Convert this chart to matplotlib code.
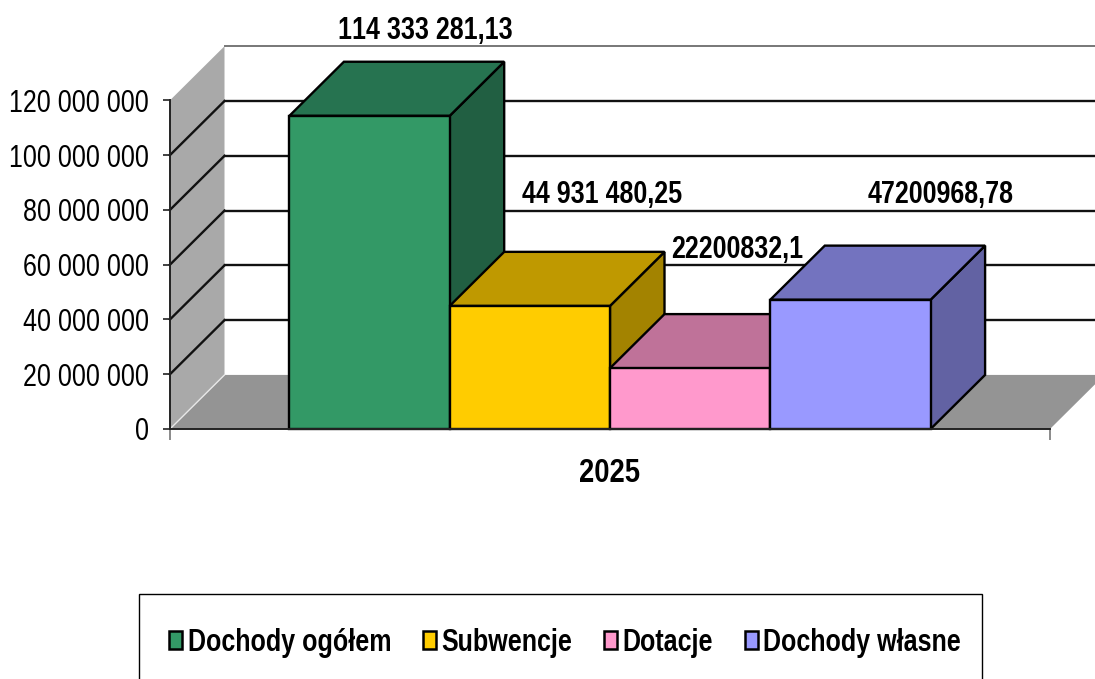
import os
import tempfile

import matplotlib
matplotlib.use("Agg")
import matplotlib.pyplot as plt
import matplotlib.patches as mpatches
from matplotlib import font_manager
from matplotlib.font_manager import FontProperties
from fontTools.ttLib import TTFont

# ── data ─────────────────────────────────────────────────────────────────────

categories = ["Dochody ogółem", "Subwencje", "Dotacje", "Dochody własne"]
values = [114333281.13, 44931480.25, 22200832.1, 47200968.78]
value_labels = ["114 333 281,13", "44 931 480,25", "22200832,1", "47200968,78"]
year_label = "2025"
y_ticks = [0, 20000000, 40000000, 60000000, 80000000, 100000000, 120000000]
y_tick_labels = ["0", "20 000 000", "40 000 000", "60 000 000",
                 "80 000 000", "100 000 000", "120 000 000"]

# ── visual constants ─────────────────────────────────────────────────────────

FRONT = ["#339966", "#FFCC00", "#FF99CC", "#9999FF"]
TOP = ["#267350", "#BF9900", "#BF7299", "#7373BF"]
SIDE = ["#215F42", "#A38300", "#A36282", "#6262A3"]

W, H = 1095, 679
BAR_W = 160.3 / 880
DEPTH_X = 54.5 / 880
DEPTH_Y = 20000000 * 54 / 54.7
LW = 1.7

# value label centres, in picture pixels (placed by hand in the original)
LABEL_XY = [(425, 31), (602, 195), (737, 250), (941, 195)]


# ── narrow font: no Arial Narrow here, so squeeze Liberation Sans to 82 % ────

def make_narrow(weight, family="Chart Narrow", squeeze=0.82):
    src = font_manager.findfont(FontProperties(family="Liberation Sans", weight=weight))
    font = TTFont(src)
    glyf = font["glyf"]
    for name in font.getGlyphOrder():
        g = glyf[name]
        if g.isComposite():
            for c in g.components:
                c.x = round(c.x * squeeze)
        elif g.numberOfContours > 0:
            g.coordinates.scale((squeeze, 1))
            g.coordinates.toInt()
        if hasattr(g, "program"):
            g.program.fromBytecode(b"")
        adv, lsb = font["hmtx"][name]
        font["hmtx"][name] = (round(adv * squeeze), round(lsb * squeeze))
    for tag in ("kern", "GPOS", "GSUB", "fpgm", "prep", "cvt ", "hdmx", "VDMX", "LTSH"):
        if tag in font:
            del font[tag]
    for rec in font["name"].names:
        if rec.nameID in (1, 16):
            rec.string = family
        elif rec.nameID == 4:
            rec.string = f"{family} {weight}"
        elif rec.nameID == 6:
            rec.string = f"ChartNarrow-{weight}"
    path = os.path.join(tempfile.mkdtemp(), f"narrow-{weight}.ttf")
    font.save(path)
    font_manager.fontManager.addfont(path)


make_narrow("normal")
make_narrow("bold")
plt.rcParams["font.family"] = ["Chart Narrow", "Liberation Sans", "DejaVu Sans"]


def poly(ax, pts, face, edge="black", lw=LW, z=3):
    ax.add_patch(mpatches.Polygon(pts, closed=True, facecolor=face, edgecolor=edge,
                                  linewidth=lw, joinstyle="miter", clip_on=False, zorder=z))


fig = plt.figure(figsize=(W / 100, H / 100), dpi=100, facecolor="white")
ax = fig.add_axes([170 / W, (H - 429) / H, 880 / W, 328.7 / H])
ax.set_xlim(-0.5, 0.5)
ax.set_ylim(0, 120000000)
ax.patch.set_visible(False)

# walls and floor
x0, x1 = -0.5, 0.5
top = y_ticks[-1]
poly(ax, [(x0, 0), (x0 + DEPTH_X, DEPTH_Y), (x0 + DEPTH_X, top + DEPTH_Y), (x0, top)],
     "#A9A9A9", edge="none", z=1)
poly(ax, [(x0, 0), (x0 + DEPTH_X, DEPTH_Y), (x1 + DEPTH_X, DEPTH_Y), (x1, 0)],
     "#949494", edge="none", z=1)
ax.plot([x0, x0 + DEPTH_X], [0, DEPTH_Y], color="#E8E8E8", lw=1, clip_on=False, zorder=1.5)

# gridlines, slanted on the side wall then along the back wall
for v in y_ticks[1:]:
    back = v + DEPTH_Y
    if v != top:
        ax.plot([x0, x0 + DEPTH_X], [v, back], color="#111111", lw=LW, clip_on=False, zorder=2)
        ax.plot([x0 + DEPTH_X, x1 + DEPTH_X], [back, back], color="#111111", lw=LW,
                clip_on=False, zorder=2)
    else:
        ax.plot([x0 + DEPTH_X, x1 + DEPTH_X], [back, back], color="#777777", lw=1.4,
                clip_on=False, zorder=2)

# bars, left to right so each one overlaps the side of the previous
for i, val in enumerate(values):
    left = (i - len(values) / 2) * BAR_W
    right = left + BAR_W
    z = 3 + i
    poly(ax, [(right, 0), (right + DEPTH_X, DEPTH_Y), (right + DEPTH_X, val + DEPTH_Y), (right, val)],
         SIDE[i], z=z)
    poly(ax, [(left, val), (left + DEPTH_X, val + DEPTH_Y), (right + DEPTH_X, val + DEPTH_Y), (right, val)],
         TOP[i], z=z)
    ax.bar(left, val, width=BAR_W, align="edge", color=FRONT[i], edgecolor="black",
           linewidth=LW, clip_on=False, zorder=z + 0.5, label=categories[i])

for txt, (px, py) in zip(value_labels, LABEL_XY):
    fig.text(px / W, 1 - py / H, txt, ha="center", va="center",
             fontsize=22, fontweight="bold", color="black", zorder=20)

# axes
for s in ("top", "right"):
    ax.spines[s].set_visible(False)
for s in ("left", "bottom"):
    ax.spines[s].set_linewidth(1.4)
    ax.spines[s].set_color("#222222")
    ax.spines[s].set_zorder(8)
ax.set_yticks(y_ticks, y_tick_labels)
ax.tick_params(axis="y", length=5, width=1.2, pad=10, labelsize=22, color="#222222")
ax.set_xticks([x0, x1], ["", ""])
ax.tick_params(axis="x", which="major", length=8, width=1.2, color="#777777")
ax.set_xticks([0], [year_label], minor=True)
ax.tick_params(axis="x", which="minor", length=0, pad=21, labelsize=24)
for t in ax.get_xticklabels(minor=True):
    t.set_fontweight("bold")

# legend: the frame runs off the bottom of the picture
fig.add_artist(mpatches.Rectangle((139 / W, -0.05), (982 - 139) / W, 0.05 + (H - 594) / H,
                                  transform=fig.transFigure, facecolor="white",
                                  edgecolor="black", linewidth=1.0))
handles, labels = ax.get_legend_handles_labels()
leg = fig.legend(handles, labels, loc="center", bbox_to_anchor=(565 / W, 1 - 643 / H),
                 ncol=4, frameon=False, handlelength=0.43, handleheight=0.5,
                 handletextpad=0.17, columnspacing=1.04,
                 prop={"size": 22, "weight": "bold"})
for h in leg.get_patches():
    h.set_linewidth(1.8)

fig.savefig("out.png", dpi=100)
plt.close(fig)
